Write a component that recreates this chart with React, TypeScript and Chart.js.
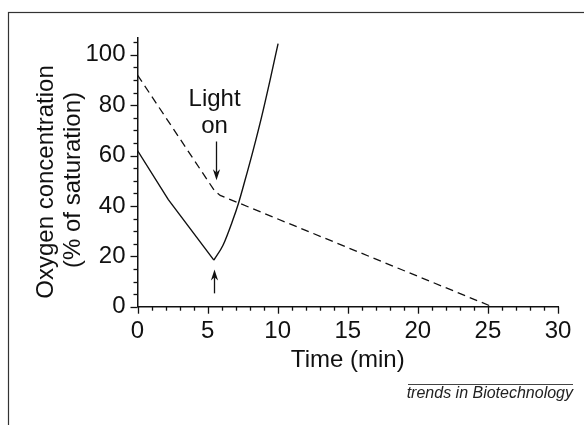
import React, { useEffect, useRef } from "react";
import { Chart, registerables } from "chart.js";

Chart.register(...registerables);

// ---- data ----
// Solid line: oxygen concentration, dark phase then light on
const solidDarkTime = [0, 2.2, 5.45];
const solidDarkO2 = [62, 42.5, 18.5];
const solidLightTime = [5.45, 6.1, 6.8, 7.2, 7.65, 8.25, 8.85, 9.45, 10.03];
const solidLightO2 = [18.5, 24.4, 34.4, 41, 49.8, 62.1, 75.3, 89.8, 104.5];
// Dashed line
const dashedTime = [0, 5.5, 5.9, 25.3];
const dashedO2 = [92, 46, 44.2, 0];

// Axes
const xMin = 0;
const xMax = 30;
const xMajorStep = 5;
const xMinorStep = 1;
const yMin = 0;
const yMax = 106.7;
const yMajorStep = 20;
const yMinorStep = 5;

// Text
const xTitle = "Time (min)";
const yTitleLines = ["Oxygen concentration", "(% of saturation)"];
const annotationLines = ["Light", "on"];
const sourceText = "trends in Biotechnology";

// Annotation anchor (data coordinates)
const lightOnTime = 5.5;
const lightTextO2 = [79.5, 68.8];
const downArrowO2 = [65.6, 50.2];
const upArrowTime = 5.47;
const upArrowO2 = [5.3, 14.8];

const FONT = "'Liberation Sans', Arial, Helvetica, sans-serif";
const INK = "#111";

function toXY(xs: number[], ys: number[]) {
  return xs.map((x, i) => ({ x, y: ys[i] }));
}

function drawArrow(ctx: CanvasRenderingContext2D, x: number, y0: number, y1: number) {
  const dir = y1 > y0 ? 1 : -1;
  const headLen = 11;
  const headHalf = 3.6;
  ctx.beginPath();
  ctx.moveTo(x, y0);
  ctx.lineTo(x, y1 - dir * headLen * 0.7);
  ctx.stroke();
  ctx.beginPath();
  ctx.moveTo(x, y1);
  ctx.lineTo(x - headHalf, y1 - dir * headLen);
  ctx.lineTo(x, y1 - dir * headLen * 0.7);
  ctx.lineTo(x + headHalf, y1 - dir * headLen);
  ctx.closePath();
  ctx.fill();
}

const decorPlugin = {
  id: "decor",
  beforeDraw(chart: any) {
    const ctx = chart.ctx as CanvasRenderingContext2D;
    ctx.save();
    ctx.fillStyle = "#fff";
    ctx.fillRect(0, 0, chart.width, chart.height);
    ctx.strokeStyle = "#333";
    ctx.lineWidth = 1.2;
    ctx.strokeRect(8.5, 12.5, chart.width + 20, chart.height + 20);
    ctx.restore();
  },
  afterDraw(chart: any) {
    const ctx = chart.ctx as CanvasRenderingContext2D;
    const xs = chart.scales.x;
    const ys = chart.scales.y;
    const area = chart.chartArea;
    ctx.save();
    ctx.strokeStyle = INK;
    ctx.fillStyle = INK;
    // x ticks
    ctx.lineWidth = 1.3;
    for (let v = xMin; v <= xMax + 1e-9; v += xMinorStep) {
      const px = Math.round(xs.getPixelForValue(v)) + 0.5;
      const major = Math.abs(v % xMajorStep) < 1e-9;
      const len = major ? 7 : 4;
      ctx.beginPath();
      ctx.moveTo(px, area.bottom);
      ctx.lineTo(px, area.bottom + len);
      ctx.stroke();
    }
    // y ticks
    for (let v = yMin; v <= yMax + 1e-9; v += yMinorStep) {
      const py = Math.round(ys.getPixelForValue(v)) + 0.5;
      const major = Math.abs(v % yMajorStep) < 1e-9;
      const len = major ? 7 : 4;
      ctx.beginPath();
      ctx.moveTo(area.left, py);
      ctx.lineTo(area.left - len, py);
      ctx.stroke();
    }
    // y title
    ctx.font = `24px ${FONT}`;
    ctx.textAlign = "center";
    ctx.textBaseline = "alphabetic";
    const yc = 182;
    ctx.save();
    ctx.translate(53, yc);
    ctx.rotate(-Math.PI / 2);
    ctx.fillText(yTitleLines[0], 0, 0);
    ctx.restore();
    ctx.save();
    ctx.translate(80, yc - 2);
    ctx.rotate(-Math.PI / 2);
    ctx.fillText(yTitleLines[1], 0, 0);
    ctx.restore();
    // annotation text
    const ax = xs.getPixelForValue(lightOnTime);
    ctx.fillText(annotationLines[0], ax, ys.getPixelForValue(lightTextO2[0]));
    ctx.fillText(annotationLines[1], ax, ys.getPixelForValue(lightTextO2[1]));
    // arrows
    ctx.lineWidth = 1.3;
    drawArrow(ctx, Math.round(xs.getPixelForValue(5.58)) + 0.5, ys.getPixelForValue(downArrowO2[0]), ys.getPixelForValue(downArrowO2[1]));
    const ux = Math.round(xs.getPixelForValue(upArrowTime)) + 0.5;
    drawArrow(ctx, ux, ys.getPixelForValue(upArrowO2[0]), ys.getPixelForValue(upArrowO2[1]));
    // source note
    ctx.strokeStyle = "#444";
    ctx.lineWidth = 1;
    ctx.beginPath();
    ctx.moveTo(408, 384.5);
    ctx.lineTo(573, 384.5);
    ctx.stroke();
    ctx.font = `italic 16px ${FONT}`;
    ctx.textAlign = "right";
    ctx.fillStyle = "#222";
    ctx.fillText(sourceText, 573, 398);
    ctx.restore();
  },
};

export default function App() {
  const ref = useRef<HTMLCanvasElement | null>(null);
  useEffect(() => {
    if (!ref.current) return;
    const chart = new Chart(ref.current, {
      type: "line",
      data: {
        datasets: [
          {
            label: "Dark",
            data: toXY(solidDarkTime, solidDarkO2),
            borderColor: INK,
            borderWidth: 1.4,
            pointRadius: 0,
            tension: 0,
            fill: false,
          },
          {
            label: "Light on",
            data: toXY(solidLightTime, solidLightO2),
            borderColor: INK,
            borderWidth: 1.4,
            pointRadius: 0,
            cubicInterpolationMode: "monotone",
            fill: false,
          },
          {
            label: "Control",
            data: toXY(dashedTime, dashedO2),
            borderColor: INK,
            borderWidth: 1.3,
            borderDash: [8, 5],
            pointRadius: 0,
            tension: 0,
            fill: false,
          },
        ],
      },
      options: {
        animation: false,
        responsive: false,
        devicePixelRatio: 1,
        layout: { padding: { left: 0, top: 38, right: 26, bottom: 0 } },
        plugins: { legend: { display: false }, tooltip: { enabled: false } },
        scales: {
          x: {
            type: "linear",
            min: xMin,
            max: xMax,
            grid: { display: false, drawTicks: false },
            border: { display: true, color: INK, width: 1.5 },
            ticks: {
              stepSize: xMajorStep,
              includeBounds: false,
              padding: 10,
              color: INK,
              font: { family: FONT, size: 24 },
              maxRotation: 0,
            },
            title: {
              display: true,
              text: xTitle,
              color: INK,
              font: { family: FONT, size: 24 },
              padding: { top: 0, bottom: 50 },
            },
            afterFit: (s: any) => {
              s.height = 425 - 306.7;
            },
          },
          y: {
            type: "linear",
            min: yMin,
            max: yMax,
            grid: { display: false, drawTicks: false },
            border: { display: true, color: INK, width: 1.5 },
            ticks: {
              stepSize: yMajorStep,
              includeBounds: false,
              padding: 12,
              color: INK,
              font: { family: FONT, size: 24 },
            },
            afterFit: (s: any) => {
              s.width = 137.5;
            },
          },
        },
      },
      plugins: [decorPlugin],
    });
    return () => chart.destroy();
  }, []);
  return (
    <div style={{ position: "fixed", left: 0, top: 0, width: 584, height: 425 }}>
      <canvas ref={ref} width={584} height={425} style={{ display: "block" }} />
    </div>
  );
}
